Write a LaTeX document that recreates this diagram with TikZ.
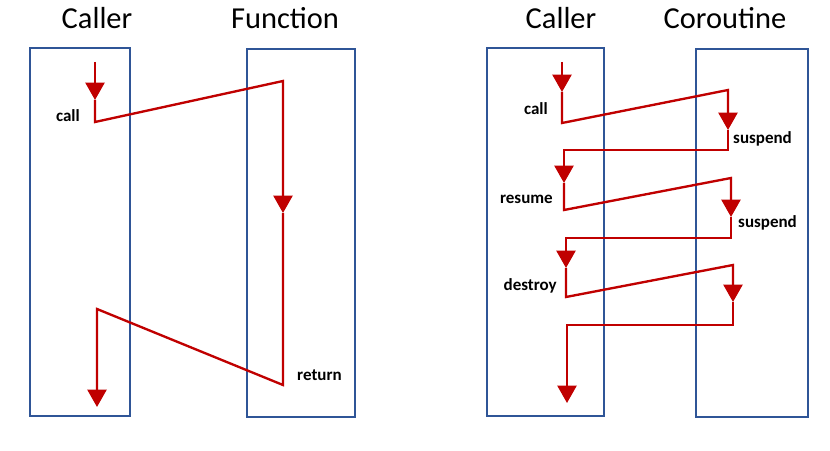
\documentclass[tikz,border=0pt]{standalone}
\usepackage{fontspec}
\setmainfont{Carlito}
\usetikzlibrary{arrows.meta}
\definecolor{laneblue}{RGB}{47,85,151}
\definecolor{flowred}{RGB}{192,0,0}

\begin{document}
\begin{tikzpicture}[x=0.03cm,y=-0.03cm,
    lane/.style={draw=laneblue,line width=2.3pt,minimum width=#1,minimum height=11.04cm,inner sep=0pt},
    title/.style={font=\fontsize{26}{30}\selectfont},
    lbl/.style={font=\bfseries\fontsize{14.5}{16}\selectfont,inner sep=0pt},
    flow/.style={draw=flowred,line width=2pt},
    flowtip/.style={flow,-{Triangle[length=0.52cm,width=0.57cm]}}]
  \useasboundingbox(0,0)rectangle(830,451);
  \fill[white](0,0)rectangle(830,451);
  % function call
  \node[title](t1)at(97,18){Caller};
  \node[title](t2)at(285,18){Function};
  \node[lane=3cm](callerA)at(80,232){};
  \node[lane=3.24cm](func)at(301,233){};
  \coordinate(a0)at(95,62);
  \coordinate(a1)at(95,100);
  \coordinate(a2)at(95,122);
  \coordinate(a3)at(283,81);
  \coordinate(a4)at(283,213);
  \coordinate(a5)at(283,385);
  \coordinate(a6)at(97,309);
  \coordinate(a7)at(97,407);
  \draw[flowtip](a0)--(a1);
  \draw[flowtip](a1)--(a2)--(a3)--(a4);
  \draw[flowtip](a4)--(a5)--(a6)--(a7);
  \node[lbl,anchor=base east](call1)at(80,122){call};
  \node[lbl,anchor=base west](ret)at(297,380){return};
  % coroutine
  \node[title](t3)at(561,18){Caller};
  \node[title](t4)at(725,18){Coroutine};
  \node[lane=3.51cm](callerB)at(545.5,232){};
  \node[lane=3.36cm](coro)at(752,233){};
  \coordinate(b0)at(562,62);
  \coordinate(b1)at(562,92);
  \coordinate(b2)at(562,123);
  \coordinate(b3)at(728,90);
  \coordinate(b4)at(728,130);
  \coordinate(b5)at(728,150);
  \coordinate(b6)at(564,150);
  \coordinate(b7)at(564,183);
  \coordinate(b8)at(564,210);
  \coordinate(b9)at(731,178);
  \coordinate(b10)at(731,217);
  \coordinate(b11)at(731,238);
  \coordinate(b12)at(566,238);
  \coordinate(b13)at(566,268);
  \coordinate(b14)at(566,297);
  \coordinate(b15)at(733,265);
  \coordinate(b16)at(733,302);
  \coordinate(b17)at(733,325);
  \coordinate(b18)at(567,325);
  \coordinate(b19)at(567,403);
  \draw[flowtip](b0)--(b1);
  \draw[flowtip](b1)--(b2)--(b3)--(b4);
  \draw[flowtip](b4)--(b5)--(b6)--(b7);
  \draw[flowtip](b7)--(b8)--(b9)--(b10);
  \draw[flowtip](b10)--(b11)--(b12)--(b13);
  \draw[flowtip](b13)--(b14)--(b15)--(b16);
  \draw[flowtip](b16)--(b17)--(b18)--(b19);
  \node[lbl,anchor=base east](call2)at(548,115){call};
  \node[lbl,anchor=base west](susp1)at(733,143){suspend};
  \node[lbl,anchor=base east](res)at(553,203){resume};
  \node[lbl,anchor=base west](susp2)at(738,227){suspend};
  \node[lbl,anchor=base east](dest)at(557,290){destroy};
\end{tikzpicture}
\end{document}
